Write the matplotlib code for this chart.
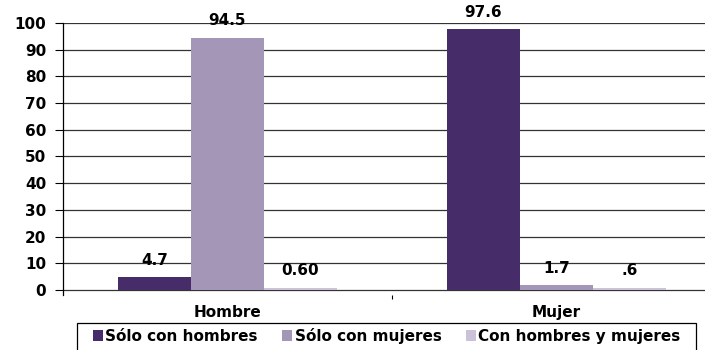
import numpy as np
import matplotlib.pyplot as plt
from matplotlib.patches import Patch, Rectangle

plt.rcParams['font.family'] = ['DejaVu Sans']
plt.rcParams['font.weight'] = 'bold'

categories = ['Hombre', 'Mujer']
series_names = ['Sólo con hombres', 'Sólo con mujeres', 'Con hombres y mujeres']
solo_hombres = [4.7, 97.6]
solo_mujeres = [94.5, 1.7]
ambos = [0.60, 0.6]
value_labels = [['4.7', '97.6'], ['94.5', '1.7'], ['0.60', '.6']]
colors = ['#472C6A', '#A496B6', '#CBC2DA']

FS = 11
W, H = 705, 350

fig = plt.figure(figsize=(W / 100, H / 100), dpi=100)
# plot area: y=100 at 23 px from top, lower limit at 295 px
ax = fig.add_axes([63 / W, 1 - 295 / H, 0.92, (295 - 23) / H])

x = np.arange(len(categories))
width = 0.222
series = [solo_hombres, solo_mujeres, ambos]
for i, vals in enumerate(series):
    pos = x + (i - 1) * width
    ax.bar(pos, vals, width, color=colors[i], zorder=3)
    for p, v, lab in zip(pos, vals, value_labels[i]):
        ax.text(p, v + 6.5, lab, ha='center', va='center',
                fontsize=FS, fontweight='bold', zorder=4)

ax.set_ylim(-1.9, 100)
ax.set_xlim(-0.5, 1.5 - 9 / 325)
ax.set_yticks(range(0, 101, 10))
ax.yaxis.grid(True, color='#333333', linewidth=0.9, zorder=0)
ax.tick_params(axis='y', labelsize=FS, length=6, width=0.8, pad=6)
for lab in ax.get_yticklabels():
    lab.set_fontweight('bold')

# category labels and the separator tick between groups
ax.set_xticks([0.5])
ax.set_xticklabels([''])
ax.tick_params(axis='x', length=3, width=0.8, direction='out')
for xi, name in zip(x, categories):
    ax.text(xi, -8.6, name, ha='center', va='center', fontsize=FS,
            fontweight='bold', clip_on=False)

for s in ['top', 'right', 'bottom']:
    ax.spines[s].set_visible(False)
ax.spines['left'].set_linewidth(0.9)

# legend box runs off the bottom edge of the figure
fig.patches.append(Rectangle((77 / W, -0.05), (696 - 77) / W, (H - 323) / H + 0.05,
                             transform=fig.transFigure, facecolor='none',
                             edgecolor='black', linewidth=0.9))
handles = [Patch(facecolor=c, edgecolor='none') for c in colors]
leg = fig.legend(handles, series_names, loc='center left',
                 bbox_to_anchor=(93 / W, 1 - 336 / H), ncol=3, frameon=False,
                 fontsize=FS, handlelength=0.66, handleheight=0.66,
                 handletextpad=0.15, columnspacing=1.6, borderpad=0,
                 borderaxespad=0)
for t in leg.get_texts():
    t.set_fontweight('bold')

fig.savefig('out.png', dpi=100)
